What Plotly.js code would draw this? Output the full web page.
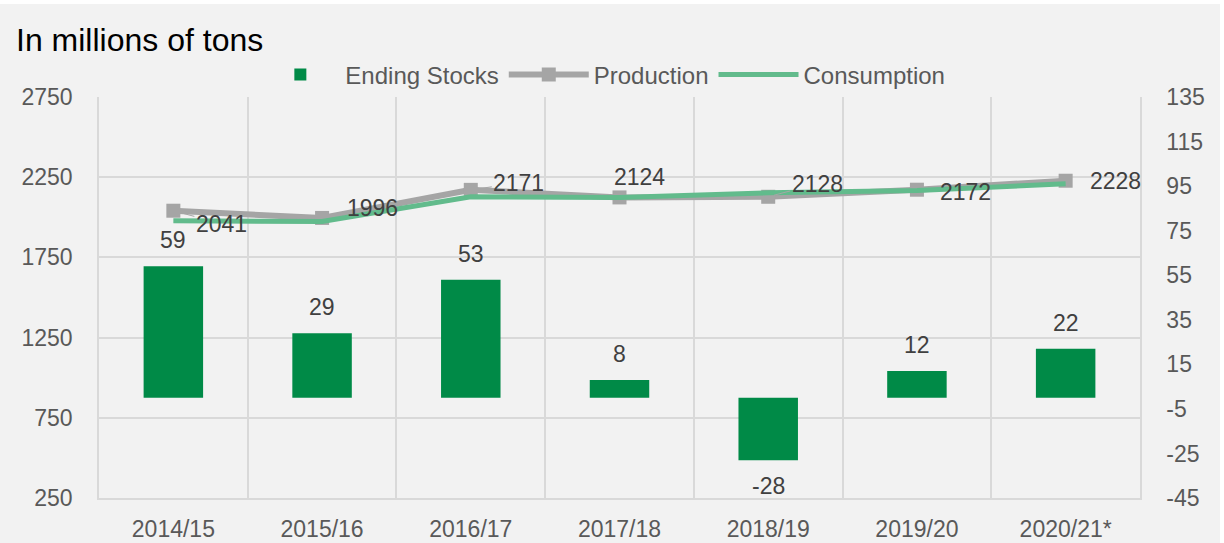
<!DOCTYPE html>
<html>
<head>
<meta charset="utf-8">
<script src="https://cdn.plot.ly/plotly-3.0.1.min.js"></script>
<style>
  html, body { margin: 0; padding: 0; background: #ffffff; }
  #chart { position: absolute; left: 0; top: 4px; width: 1220px; height: 539px; }
</style>
</head>
<body>
<div id="chart"></div>
<script>
const categories = ["2014/15", "2015/16", "2016/17", "2017/18", "2018/19", "2019/20", "2020/21*"];
const endingStocks = [59, 29, 53, 8, -28, 12, 22];
const production = [2041, 1996, 2171, 2124, 2128, 2172, 2228];
const consumption = [1978, 1974, 2128, 2123, 2153, 2167, 2209];
const leftTicks = [250, 750, 1250, 1750, 2250, 2750];
const rightTicks = [-45, -25, -5, 15, 35, 55, 75, 95, 115, 135];

// label placement offsets (pixels) for production labels
const prodLabelOffsets = [[48, 13], [50, -10], [48, -7], [20, -20], [49, -13], [49, 2], [50, 0]];
const prodLabelLeader = [true, true, true, false, true, false, false];

const FONT = "Liberation Sans, Arial, sans-serif";

const traces = [
  {
    type: "bar", name: "Ending Stocks", x: categories, y: endingStocks,
    yaxis: "y2", width: 0.4, marker: { color: "#008a47" },
    hoverinfo: "x+y"
  },
  {
    type: "scatter", mode: "lines+markers", name: "Production", x: categories, y: production,
    line: { color: "#a5a5a5", width: 6 },
    marker: { symbol: "square", size: 14, color: "#a5a5a5" }
  },
  {
    type: "scatter", mode: "lines", name: "Consumption", x: categories, y: consumption,
    line: { color: "#62bb8c", width: 5 }
  }
];

const annotations = [];
categories.forEach((c, i) => {
  const v = endingStocks[i];
  annotations.push({
    x: c, y: v, xref: "x", yref: "y2", text: String(v), showarrow: false,
    yanchor: "middle", yshift: v >= 0 ? 26 : -26,
    font: { family: FONT, size: 23, color: "#404040" }
  });
  const [dx, dy] = prodLabelOffsets[i];
  if (prodLabelLeader[i]) {
    annotations.push({
      x: c, y: production[i], xref: "x", yref: "y", text: String(production[i]),
      showarrow: true, ax: dx, ay: dy, arrowhead: 0, arrowwidth: 1, arrowcolor: "#a6a6a6",
      standoff: 6, font: { family: FONT, size: 23, color: "#404040" }
    });
  } else {
    annotations.push({
      x: c, y: production[i], xref: "x", yref: "y", text: String(production[i]),
      showarrow: false, xshift: dx, yshift: -dy,
      font: { family: FONT, size: 23, color: "#404040" }
    });
  }
});

const layout = {
  width: 1220, height: 539,
  paper_bgcolor: "#f2f2f2", plot_bgcolor: "#f2f2f2",
  margin: { l: 99, r: 80, t: 93, b: 45, autoexpand: false },
  font: { family: FONT, size: 22, color: "#595959" },
  title: {
    text: "In millions of tons", xref: "container", x: 16 / 1220, xanchor: "left",
    yref: "container", y: 1 - 36 / 539, yanchor: "middle",
    font: { family: FONT, size: 32, color: "#000000" }
  },
  showlegend: true,
  legend: {
    orientation: "h", x: 0.484, xanchor: "center", y: 1.055, yanchor: "middle",
    font: { family: FONT, size: 24, color: "#595959" }, bgcolor: "rgba(0,0,0,0)",
    traceorder: "normal", itemwidth: 80
  },
  xaxis: {
    type: "category", range: [-0.5, categories.length - 0.5], autorange: false,
    tickson: "boundaries", showgrid: true, gridcolor: "#d9d9d9", gridwidth: 1.5,
    showline: true, linecolor: "#d9d9d9", linewidth: 1.5, ticks: "", ticklabelstandoff: 10,
    tickfont: { family: FONT, size: 23, color: "#595959" }, zeroline: false, mirror: false
  },
  yaxis: {
    range: [250, 2750], tickvals: leftTicks, ticktext: leftTicks.map(String),
    showgrid: true, gridcolor: "#d9d9d9", gridwidth: 1.5, zeroline: false,
    showline: true, linecolor: "#d9d9d9", linewidth: 1.5,
    ticks: "", ticklabelstandoff: 20,
    tickfont: { family: FONT, size: 23, color: "#595959" }
  },
  yaxis2: {
    range: [-45, 135], tickvals: rightTicks, ticktext: rightTicks.map(String),
    overlaying: "y", side: "right", showgrid: false, zeroline: false,
    showline: true, linecolor: "#d9d9d9", linewidth: 1.5,
    ticks: "", ticklabelstandoff: 20,
    tickfont: { family: FONT, size: 23, color: "#595959" }
  },
  annotations: annotations
};

Plotly.newPlot("chart", traces, layout, { displayModeBar: false, responsive: false });
</script>
</body>
</html>
